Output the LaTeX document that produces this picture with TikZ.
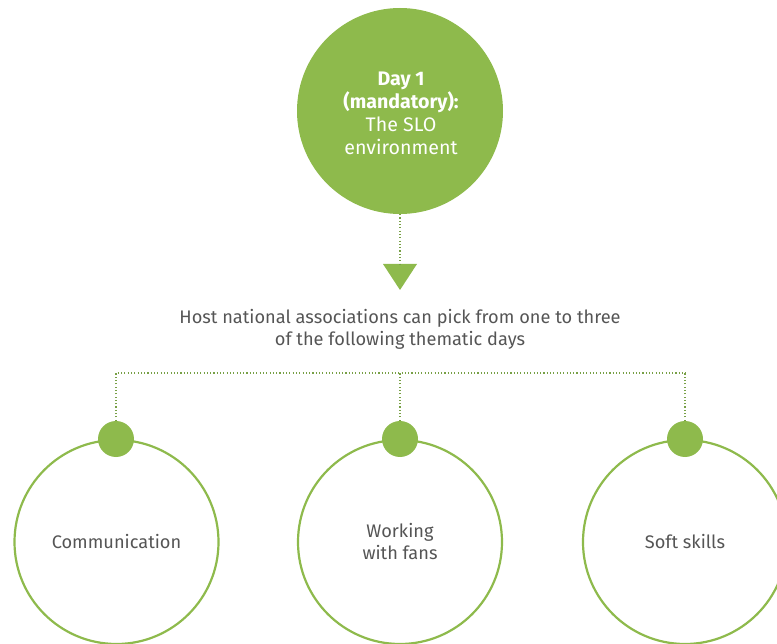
\documentclass[tikz,border=0pt]{standalone}
\usepackage{fontspec}
\setmainfont{Fira Sans}[BoldFont=* Bold]
\usetikzlibrary{calc}
\definecolor{lgreen}{RGB}{142,186,76}
\definecolor{dgreen}{RGB}{120,160,70}
\definecolor{tgray}{RGB}{85,85,85}
\tikzset{
  bigring/.style={circle, draw=lgreen, line width=2.2pt, fill=white, minimum size=204pt, inner sep=0pt, align=center, text=tgray, font=\fontsize{18.2}{22}\selectfont},
  knob/.style={circle, fill=lgreen, minimum size=36pt, inner sep=0pt},
  dotline/.style={draw=dgreen, line width=1.1pt, dash pattern=on 1.1pt off 2.2pt},
  daytxt/.style={text=white, font=\fontsize{19.6}{23}\selectfont, align=center}
}
\begin{document}
\begin{tikzpicture}[x=1pt,y=-1pt]
\useasboundingbox (0,0) rectangle (777,644);
\clip (0,0) rectangle (777,644);
% top circle
\node[circle, fill=lgreen, minimum size=206pt, inner sep=0pt] (day1) at (400,111) {};
\node[daytxt] (day1t) at (401,113) {\textbf{Day 1}\\\textbf{(mandatory):}\\The SLO\\environment};
% arrow triangle
\coordinate (tri) at (400,264);
\fill[lgreen] (383,264) -- (417,264) -- (400,290) -- cycle;
\draw[dotline] (day1.south) -- (tri);
% header
\node[text=tgray, font=\fontsize{18.2}{22}\selectfont, align=center] (head) at (400,329)
  {Host national associations can pick from one to three\\of the following thematic days};
% big rings
\node[bigring] (c1) at (116.5,542) {Communication};
\node[bigring] (c2) at (400,542) {Working\\with fans};
\node[bigring] (c3) at (685,542) {Soft skills};
% knobs
\node[knob] (k1) at (116,439) {};
\node[knob] (k2) at (400,439) {};
\node[knob] (k3) at (685,439) {};
% dotted tree
\coordinate (b1) at (116,373);
\coordinate (b3) at (686,373);
\draw[dotline] (k1.north) -- (b1) -- (b3);
\draw[dotline] (k3.north) -- (k3.north |- b3);
\draw[dotline] (k2.north) -- (k2.north |- b1);
\end{tikzpicture}
\end{document}
